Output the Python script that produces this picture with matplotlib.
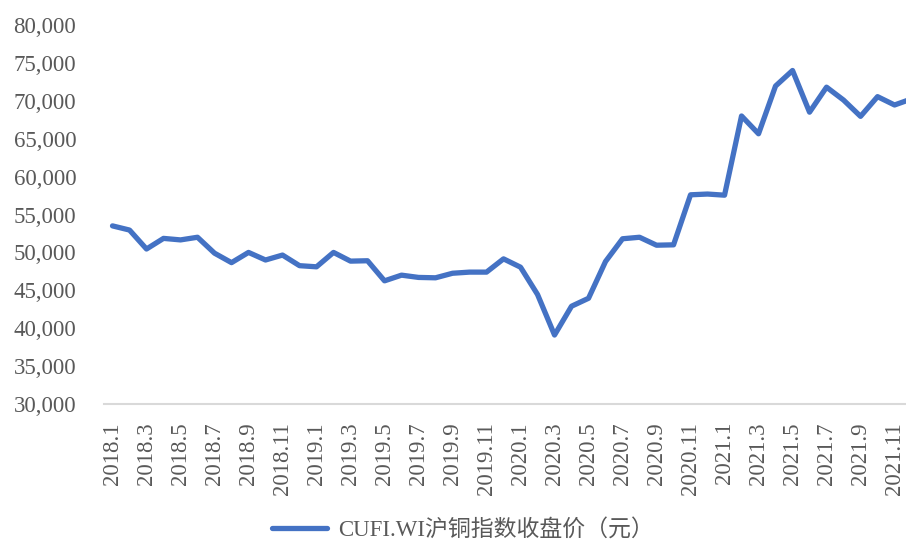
import matplotlib.pyplot as plt
import numpy as np

plt.rcParams['font.family'] = ['Liberation Serif', 'Noto Sans CJK SC', 'DejaVu Sans']

# months 2018.1 .. 2021.12
months = [f'{y}.{m}' for y in range(2018, 2022) for m in range(1, 13)]
close = [53500, 52950, 50450, 51850, 51650, 52000, 49900, 48650, 50000, 49000, 49650, 48250,
         48100, 50000, 48850, 48900, 46250, 47000, 46700, 46650, 47250, 47400, 47400, 49150,
         48050, 44450, 39100, 42900, 43950, 48800, 51800, 52000, 50950, 51000, 57600, 57700,
         57550, 68000, 65650, 71950, 74000, 68500, 71800, 70100, 67950, 70550, 69450, 70250]
series_name = 'CUFI.WI沪铜指数收盘价（元）'
yticks = list(range(30000, 80001, 5000))

fig = plt.figure(figsize=(9.06, 5.45), dpi=100)
ax = fig.add_axes([0.1148, 0.2587, 0.9007, 0.6954])

x = np.arange(len(months))
ax.plot(x, close, color='#4472C4', lw=3.8, solid_joinstyle='round', solid_capstyle='round',
        label=series_name)

ax.set_xlim(-0.5, len(months) - 0.5)
ax.set_ylim(30000, 80000)
ax.set_yticks(yticks)
ax.set_yticklabels([f'{v:,}' for v in yticks])
ax.set_xticks(x[::2])
ax.set_xticklabels(months[::2], rotation=90, ha='center', va='top')

for s in ['top', 'right', 'left']:
    ax.spines[s].set_visible(False)
ax.spines['bottom'].set_color('#D9D9D9')
ax.spines['bottom'].set_linewidth(1.5)
ax.tick_params(axis='y', length=0, pad=20, labelsize=16.5, labelcolor='#595959')
ax.tick_params(axis='x', length=0, pad=13, labelsize=16.5, labelcolor='#595959')

leg = fig.legend(loc='center', bbox_to_anchor=(463 / 906, 1 - 530 / 545), frameon=False,
                 fontsize=16.5, handlelength=2.4, handletextpad=0.5, labelcolor='#595959')

fig.savefig('out.png', dpi=100)
